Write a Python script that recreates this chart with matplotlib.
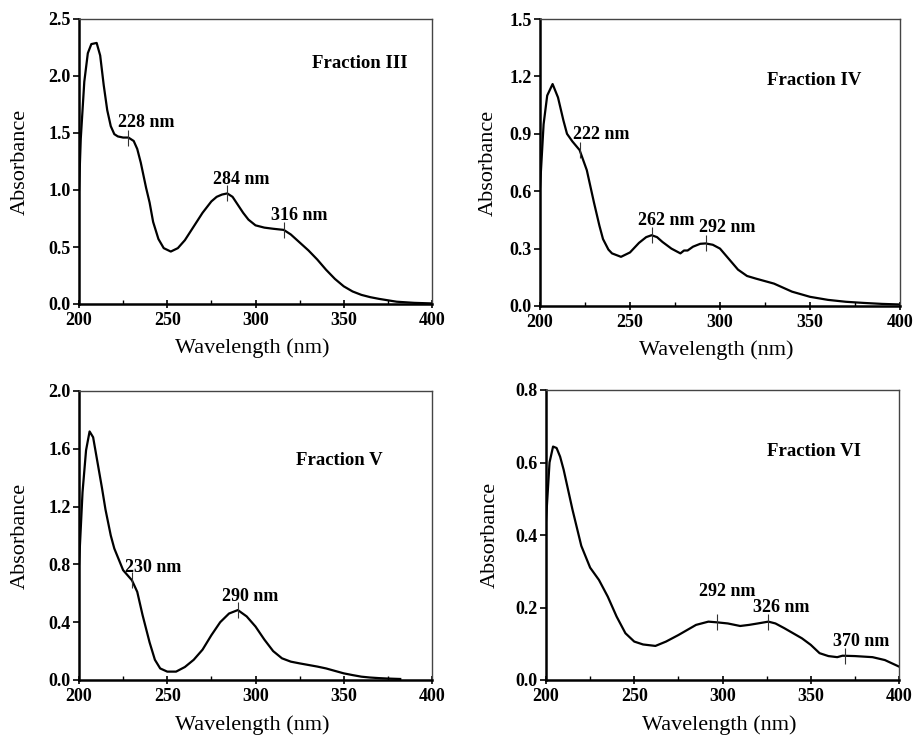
import matplotlib
matplotlib.use("Agg")
import matplotlib.pyplot as plt
from matplotlib.ticker import MultipleLocator, FormatStrFormatter

plt.rcParams['font.family'] = ['Liberation Serif', 'DejaVu Serif']

# ---- data ----
wl_III = [200, 201, 203, 205, 207, 210, 212, 214, 216, 218, 220, 222, 225, 228, 231, 233, 235, 238, 240, 242,
          245, 248, 252, 256, 260, 265, 270, 275, 278, 281, 284, 287, 290, 293, 296, 300, 305, 310, 316,
          320, 325, 330, 335, 340, 345, 350, 355, 360, 365, 370, 380, 390, 400]
ab_III = [1.0, 1.45, 1.95, 2.2, 2.28, 2.29, 2.18, 1.92, 1.70, 1.56, 1.49, 1.47, 1.46, 1.46, 1.43, 1.36, 1.24,
          1.02, 0.89, 0.72, 0.57, 0.49, 0.46, 0.49, 0.56, 0.68, 0.80, 0.90, 0.94, 0.96, 0.97, 0.94, 0.87,
          0.80, 0.74, 0.69, 0.67, 0.66, 0.65, 0.61, 0.54, 0.47, 0.39, 0.30, 0.22, 0.155, 0.11, 0.08, 0.06,
          0.045, 0.02, 0.01, 0.005]

wl_IV = [200, 202, 204, 207, 210, 213, 215, 218, 222, 226, 230, 233, 235, 238, 240, 245, 250, 255, 259, 262,
         265, 268, 273, 278, 280, 282, 285, 289, 292, 296, 300, 305, 310, 315, 320, 330, 340, 350, 360, 370,
         380, 390, 400]
ab_IV = [0.62, 0.95, 1.10, 1.16, 1.09, 0.97, 0.90, 0.86, 0.815, 0.71, 0.54, 0.42, 0.35, 0.295, 0.275, 0.257,
         0.28, 0.33, 0.36, 0.37, 0.36, 0.335, 0.30, 0.275, 0.29, 0.29, 0.31, 0.325, 0.327, 0.32, 0.30, 0.245,
         0.19, 0.157, 0.143, 0.117, 0.075, 0.048, 0.032, 0.022, 0.016, 0.011, 0.008]

wl_V = [200, 202, 204, 206, 208, 210, 213, 215, 218, 220, 225, 230, 233, 236, 240, 243, 246, 250, 255, 260,
        265, 270, 275, 280, 285, 290, 295, 300, 305, 310, 315, 320, 325, 330, 335, 340, 345, 350, 355, 360,
        365, 370, 375, 382]
ab_V = [0.8, 1.3, 1.59, 1.72, 1.68, 1.54, 1.33, 1.18, 1.00, 0.91, 0.76, 0.69, 0.61, 0.45, 0.26, 0.14, 0.08,
        0.058, 0.058, 0.09, 0.14, 0.21, 0.31, 0.40, 0.46, 0.484, 0.44, 0.37, 0.28, 0.20, 0.15, 0.127, 0.115,
        0.104, 0.093, 0.08, 0.063, 0.046, 0.034, 0.023, 0.017, 0.013, 0.01, 0.007]

wl_VI = [200, 202, 204, 206, 208, 210, 215, 220, 225, 230, 235, 240, 245, 250, 255, 262, 268, 275, 280, 285,
         292, 297, 303, 310, 315, 320, 326, 330, 335, 340, 345, 350, 355, 360, 365, 368, 375, 385, 392, 400]
ab_VI = [0.44, 0.60, 0.644, 0.64, 0.616, 0.58, 0.47, 0.37, 0.31, 0.276, 0.23, 0.175, 0.129, 0.106, 0.098,
         0.094, 0.106, 0.124, 0.138, 0.152, 0.161, 0.159, 0.156, 0.149, 0.152, 0.156, 0.161, 0.156, 0.143,
         0.129, 0.115, 0.097, 0.074, 0.066, 0.063, 0.067, 0.066, 0.063, 0.055, 0.037]

titles = ["Fraction III", "Fraction IV", "Fraction V", "Fraction VI"]
peaks_III = [(228, 1.46, "228 nm", 221.9, 1.59), (284, 0.97, "284 nm", 276.0, 1.088), (316, 0.65, "316 nm", 308.6, 0.78)]
peaks_IV = [(222, 0.815, "222 nm", 218.4, 0.897), (262, 0.37, "262 nm", 254.5, 0.445), (292, 0.327, "292 nm", 288.4, 0.408)]
peaks_V = [(230, 0.69, "230 nm", 226.2, 0.78), (290, 0.484, "290 nm", 281.2, 0.58)]
peaks_VI = [(297, 0.159, "292 nm", 286.9, 0.244), (326, 0.161, "326 nm", 317.0, 0.20), (369.5, 0.066, "370 nm", 362.4, 0.106)]

ymax = [2.5, 1.5, 2.0, 0.8]
ystep = [0.5, 0.3, 0.4, 0.2]
title_pos = [(332, 2.11), (325.9, 1.18), (322.9, 1.52), (325.0, 0.63)]

W, H = 913, 741
fig = plt.figure(figsize=(W / 100, H / 100), dpi=100)

# axes boxes in pixels: left, right, top, bottom
boxes = [(79, 432, 19, 304), (540, 900, 19, 306), (79, 432, 391, 680), (546, 899, 390, 680)]
ylab_x = [20, 488, 20, 490]
xlab_top = [338, 340, 715, 715]

series = [(wl_III, ab_III, peaks_III), (wl_IV, ab_IV, peaks_IV), (wl_V, ab_V, peaks_V), (wl_VI, ab_VI, peaks_VI)]

for i, ((wl, ab, peaks), (l, r, t, b)) in enumerate(zip(series, boxes)):
    ax = fig.add_axes([l / W, 1 - b / H, (r - l) / W, (b - t) / H])
    ax.plot(wl, ab, color='black', lw=1.6, solid_joinstyle='round')
    for (px, py, lab, tx, ty) in peaks:
        ax.plot([px], [py], marker='|', ms=11, mew=0.8, color='#333333')
        ax.text(tx, ty, lab, ha='left', va='center', fontsize=13, fontweight='bold')
    ax.text(title_pos[i][0], title_pos[i][1], titles[i], ha='left', va='center',
            fontsize=13.5, fontweight='bold')
    ax.set_xlim(200, 400)
    ax.set_ylim(0, ymax[i])
    ax.xaxis.set_major_locator(MultipleLocator(50))
    ax.xaxis.set_minor_locator(MultipleLocator(25))
    ax.yaxis.set_major_locator(MultipleLocator(ystep[i]))
    ax.yaxis.set_major_formatter(FormatStrFormatter('%.1f'))
    ax.tick_params(axis='x', which='major', direction='inout', length=6, width=1.2, pad=3,
                   labelsize=13)
    ax.tick_params(axis='x', which='minor', direction='in', length=3, width=1.0)
    ax.tick_params(axis='y', which='major', direction='out', length=4, width=1.2, pad=2,
                   labelsize=13)
    for lbl in ax.get_xticklabels() + ax.get_yticklabels():
        lbl.set_fontweight('bold')
    for s in ['left', 'bottom']:
        ax.spines[s].set_linewidth(1.8)
        ax.spines[s].set_color('black')
    for s in ['top', 'right']:
        ax.spines[s].set_linewidth(1.0)
        ax.spines[s].set_color('#444444')
    ax.set_xlabel("Wavelength (nm)", fontsize=16)
    ax.set_ylabel("Absorbance", fontsize=16)
    ax.xaxis.set_label_coords(0.49, -(xlab_top[i] - b) / (b - t))
    ax.xaxis.label.set_verticalalignment('top')
    ax.yaxis.set_label_coords((ylab_x[i] - l) / (r - l), 0.5)
    ax.yaxis.label.set_verticalalignment('center')

fig.savefig("out.png", dpi=100)
